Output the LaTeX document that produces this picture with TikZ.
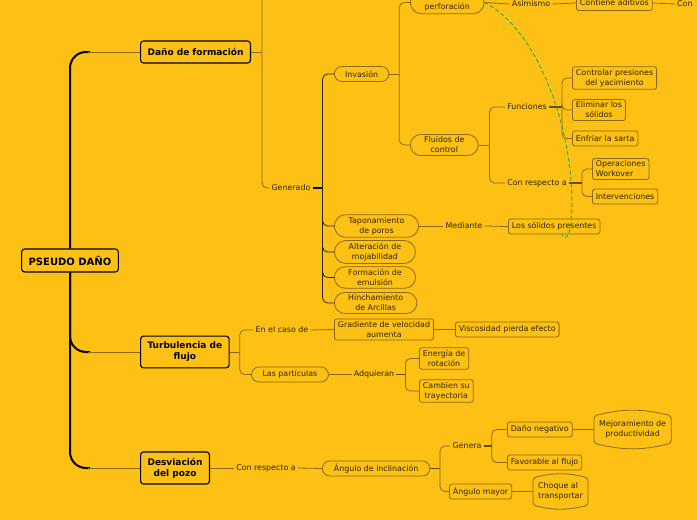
\documentclass[tikz,border=0pt]{standalone}
\usepackage{fontspec}
\setmainfont{DejaVu Sans}
\usepackage{tikz}
\usetikzlibrary{positioning,shapes.misc,calc}
\definecolor{amber}{HTML}{FDC014}
\definecolor{bark}{HTML}{8C6914}
\definecolor{soil}{HTML}{2E2400}
\definecolor{leaf}{HTML}{1FAF55}
\newcommand{\bulgebox}[1]{%
  \draw[draw=bark, line width=0.8pt, rounded corners=3pt]
    ([yshift=-3pt]#1.north west) to[bend left=14] ([yshift=-3pt]#1.north east)
    -- ([yshift=3pt]#1.south east) to[bend left=14] ([yshift=3pt]#1.south west) -- cycle;}

\begin{document}
\begin{tikzpicture}[x=1pt,y=-1pt,
  topic/.style={draw=black, line width=1.1pt, rounded corners=3pt, font=\fontsize{9}{11}\selectfont\bfseries,
    align=center, inner xsep=7pt, inner ysep=6pt, text=black, minimum height=22pt},
  box/.style={draw=bark, line width=0.8pt, rounded corners=2.5pt, font=\fontsize{7.9}{10}\selectfont,
    align=center, inner xsep=3.5pt, inner ysep=2.5pt, text=soil, minimum height=15pt},
  pill/.style={draw=bark, line width=0.8pt, rounded rectangle, font=\fontsize{7.9}{10}\selectfont,
    align=center, inner xsep=10pt, inner ysep=2.5pt, text=soil, minimum height=15pt},
  lbl/.style={font=\fontsize{7.9}{10}\selectfont, text=soil, inner sep=2pt},
  cloud/.style={font=\fontsize{7.9}{10}\selectfont, text=soil, align=center, inner xsep=5pt, minimum height=33pt},
  link/.style={draw=bark, line width=0.8pt, rounded corners=5pt},
  stub/.style={draw=bark!70!black, line width=1.6pt},
  trunk/.style={draw=black, line width=2pt, rounded corners=16pt}
]
  \useasboundingbox (0,0) rectangle (697,520);
  \fill[amber] (0,0) rectangle (697,520);
  \clip (0,0) rectangle (697,520);

  % central topic and main branches
  \node[topic, font=\fontsize{10}{11}\selectfont\bfseries, minimum height=23pt] (root) at (70,260.5) {PSEUDO DAÑO};
  \node[topic, anchor=west] (dano) at (140,52) {Daño de formación};
  \node[topic, anchor=west] (turb) at (140,352) {Turbulencia de\\flujo};
  \node[topic, anchor=west] (desv) at (140,468) {Desviación\\del pozo};
  \draw[trunk] (root.north) |- ([xshift=-50]dano.west);
  \draw[trunk] (root.south) |- ([xshift=-50]turb.west);
  \draw[trunk] (root.south) |- ([xshift=-50]desv.west);
  \foreach \m in {dano,turb,desv}
    \draw[link] ([xshift=-52]\m.west) -- (\m.west);

  % Daño de formación
  \coordinate (danotop) at (262,-5);
  \draw[link] (dano.east) -- (262,52);
  \node[lbl] (gen) at (291,188) {Generado};
  \draw[link] (danotop) |- (gen.west);
  \draw[stub, draw=black] (gen.east) -- ++(10,0) coordinate (genbus);
  \node[pill, anchor=west] (inv) at (334,74) {Invasión};
  \foreach \k/\y/\t in {tap/226/{Taponamiento\\de poros}, alt/252/{Alteración de\\mojabilidad},
                        form/277.5/{Formación de\\emulsión}, hinch/303/{Hinchamiento\\de Arcillas}}
    \node[pill, anchor=west] (\k) at (334,\y) {\t};
  \foreach \k in {inv,tap,alt,form,hinch}
    \draw[link, draw=soil] (genbus) |- (\k.west);

  % Invasión
  \draw[link] (inv.east) -- ++(10,0) coordinate (invbus);
  \node[pill, anchor=west] (fperf) at (410,2.5) {Fluidos de\\perforación};
  \node[pill, anchor=west] (fcon) at (410,145) {Fluidos de\\control};
  \draw[link] (invbus) |- (fperf.west);
  \draw[link] (invbus) |- (fcon.west);
  \node[lbl] (asim) at (531,4) {Asimismo};
  \node[box, anchor=west] (adit) at (576,3) {Contiene aditivos};
  \node[lbl, anchor=west] (conx) at (675,4) {Con};
  \draw[link] (fperf.east) -- (asim.west);
  \draw[link] (asim.east) -- (adit.west);
  \draw[link] (adit.east) -- (conx.west);

  % Fluidos de control
  \draw[link] (fcon.east) -- ++(11,0) coordinate (fconbus);
  \node[lbl] (func) at (527,107) {Funciones};
  \node[lbl] (respa) at (537,183) {Con respecto a};
  \draw[link] (fconbus) |- (func.west);
  \draw[link] (fconbus) |- (respa.west);
  \draw[stub] (func.east) -- ++(13,0) coordinate (funcbus);
  \node[box, anchor=west] (ctrl) at (572,78) {Controlar presiones\\del yacimiento};
  \node[box, anchor=west] (elim) at (572,110) {Eliminar los\\sólidos};
  \node[box, anchor=west] (enfr) at (572,138.5) {Enfriar la sarta};
  \foreach \k in {ctrl,elim,enfr}
    \draw[link] (funcbus) |- (\k.west);
  \draw[stub] (respa.east) -- ++(13,0) coordinate (respabus);
  \node[box, anchor=west, align=left] (oper) at (592,169) {Operaciones\\Workover};
  \node[box, anchor=west] (interv) at (592,196.5) {Intervenciones};
  \foreach \k in {oper,interv}
    \draw[link] (respabus) |- (\k.west);

  % Taponamiento
  \node[lbl] (med) at (464,226) {Mediante};
  \node[box, anchor=west] (sol) at (508,226.5) {Los sólidos presentes};
  \draw[link] (tap.east) -- (med.west);
  \draw[link] (med.east) -- (sol.west);

  % Turbulencia de flujo
  \draw[link] (turb.east) -- ++(10,0) coordinate (turbbus);
  \node[lbl] (caso) at (282,330) {En el caso de};
  \node[pill, anchor=west] (part) at (251,374.5) {Las partículas};
  \draw[link] (turbbus) |- (caso.west);
  \draw[link] (turbbus) |- (part.west);
  \node[box, anchor=west] (grad) at (334,329.5) {Gradiente de velocidad\\aumenta};
  \node[box, anchor=west] (visc) at (455,329.5) {Viscosidad pierda efecto};
  \draw[link] (caso.east) -- (grad.west);
  \draw[link] (grad.east) -- (visc.west);
  \node[lbl] (adq) at (374,374.5) {Adquieran};
  \draw[link] (part.east) -- (adq.west);
  \draw[stub] (adq.east) -- ++(9,0) coordinate (adqbus);
  \node[box, anchor=west] (ener) at (419,358.5) {Energía de\\rotación};
  \node[box, anchor=west] (camb) at (419,391) {Cambien su\\trayectoria};
  \foreach \k in {ener,camb}
    \draw[link] (adqbus) |- (\k.west);

  % Desviación del pozo
  \node[lbl] (respb) at (266,468) {Con respecto a};
  \node[pill, anchor=west] (ang) at (322,468.5) {Ángulo de inclinación};
  \draw[link] (desv.east) -- (respb.west);
  \draw[link] (respb.east) -- (ang.west);
  \draw[stub] (ang.east) -- (440,468.5) coordinate (angbus);
  \node[lbl] (genera) at (467,446) {Genera};
  \node[box, anchor=west] (amay) at (449,491.5) {Ángulo mayor};
  \draw[link] (angbus) |- (genera.west);
  \draw[link] (angbus) |- (amay.west);
  \draw[stub] (genera.east) -- ++(8,0) coordinate (generabus);
  \node[box, anchor=west] (dneg) at (507,429.5) {Daño negativo};
  \node[box, anchor=west] (fav) at (507,462.5) {Favorable al flujo};
  \foreach \k in {dneg,fav}
    \draw[link] (generabus) |- (\k.west);
  \node[cloud, anchor=west] (mejor) at (594,429.5) {Mejoramiento de\\productividad};
  \node[cloud, anchor=west, align=left] (choq) at (533,491.5) {Choque al\\transportar};
  \bulgebox{mejor}
  \bulgebox{choq}
  \draw[link] (dneg.east) -- (mejor.west);
  \draw[link] (amay.east) -- (choq.west);

  % relation line
  \draw[leaf, line width=0.9pt, dash pattern=on 4pt off 2.5pt]
    (fperf.east) .. controls (540,30) and (578,140) .. (571,222)
    .. controls (570,238) and (563,241) .. ([xshift=8]sol.south);
\end{tikzpicture}
\end{document}
